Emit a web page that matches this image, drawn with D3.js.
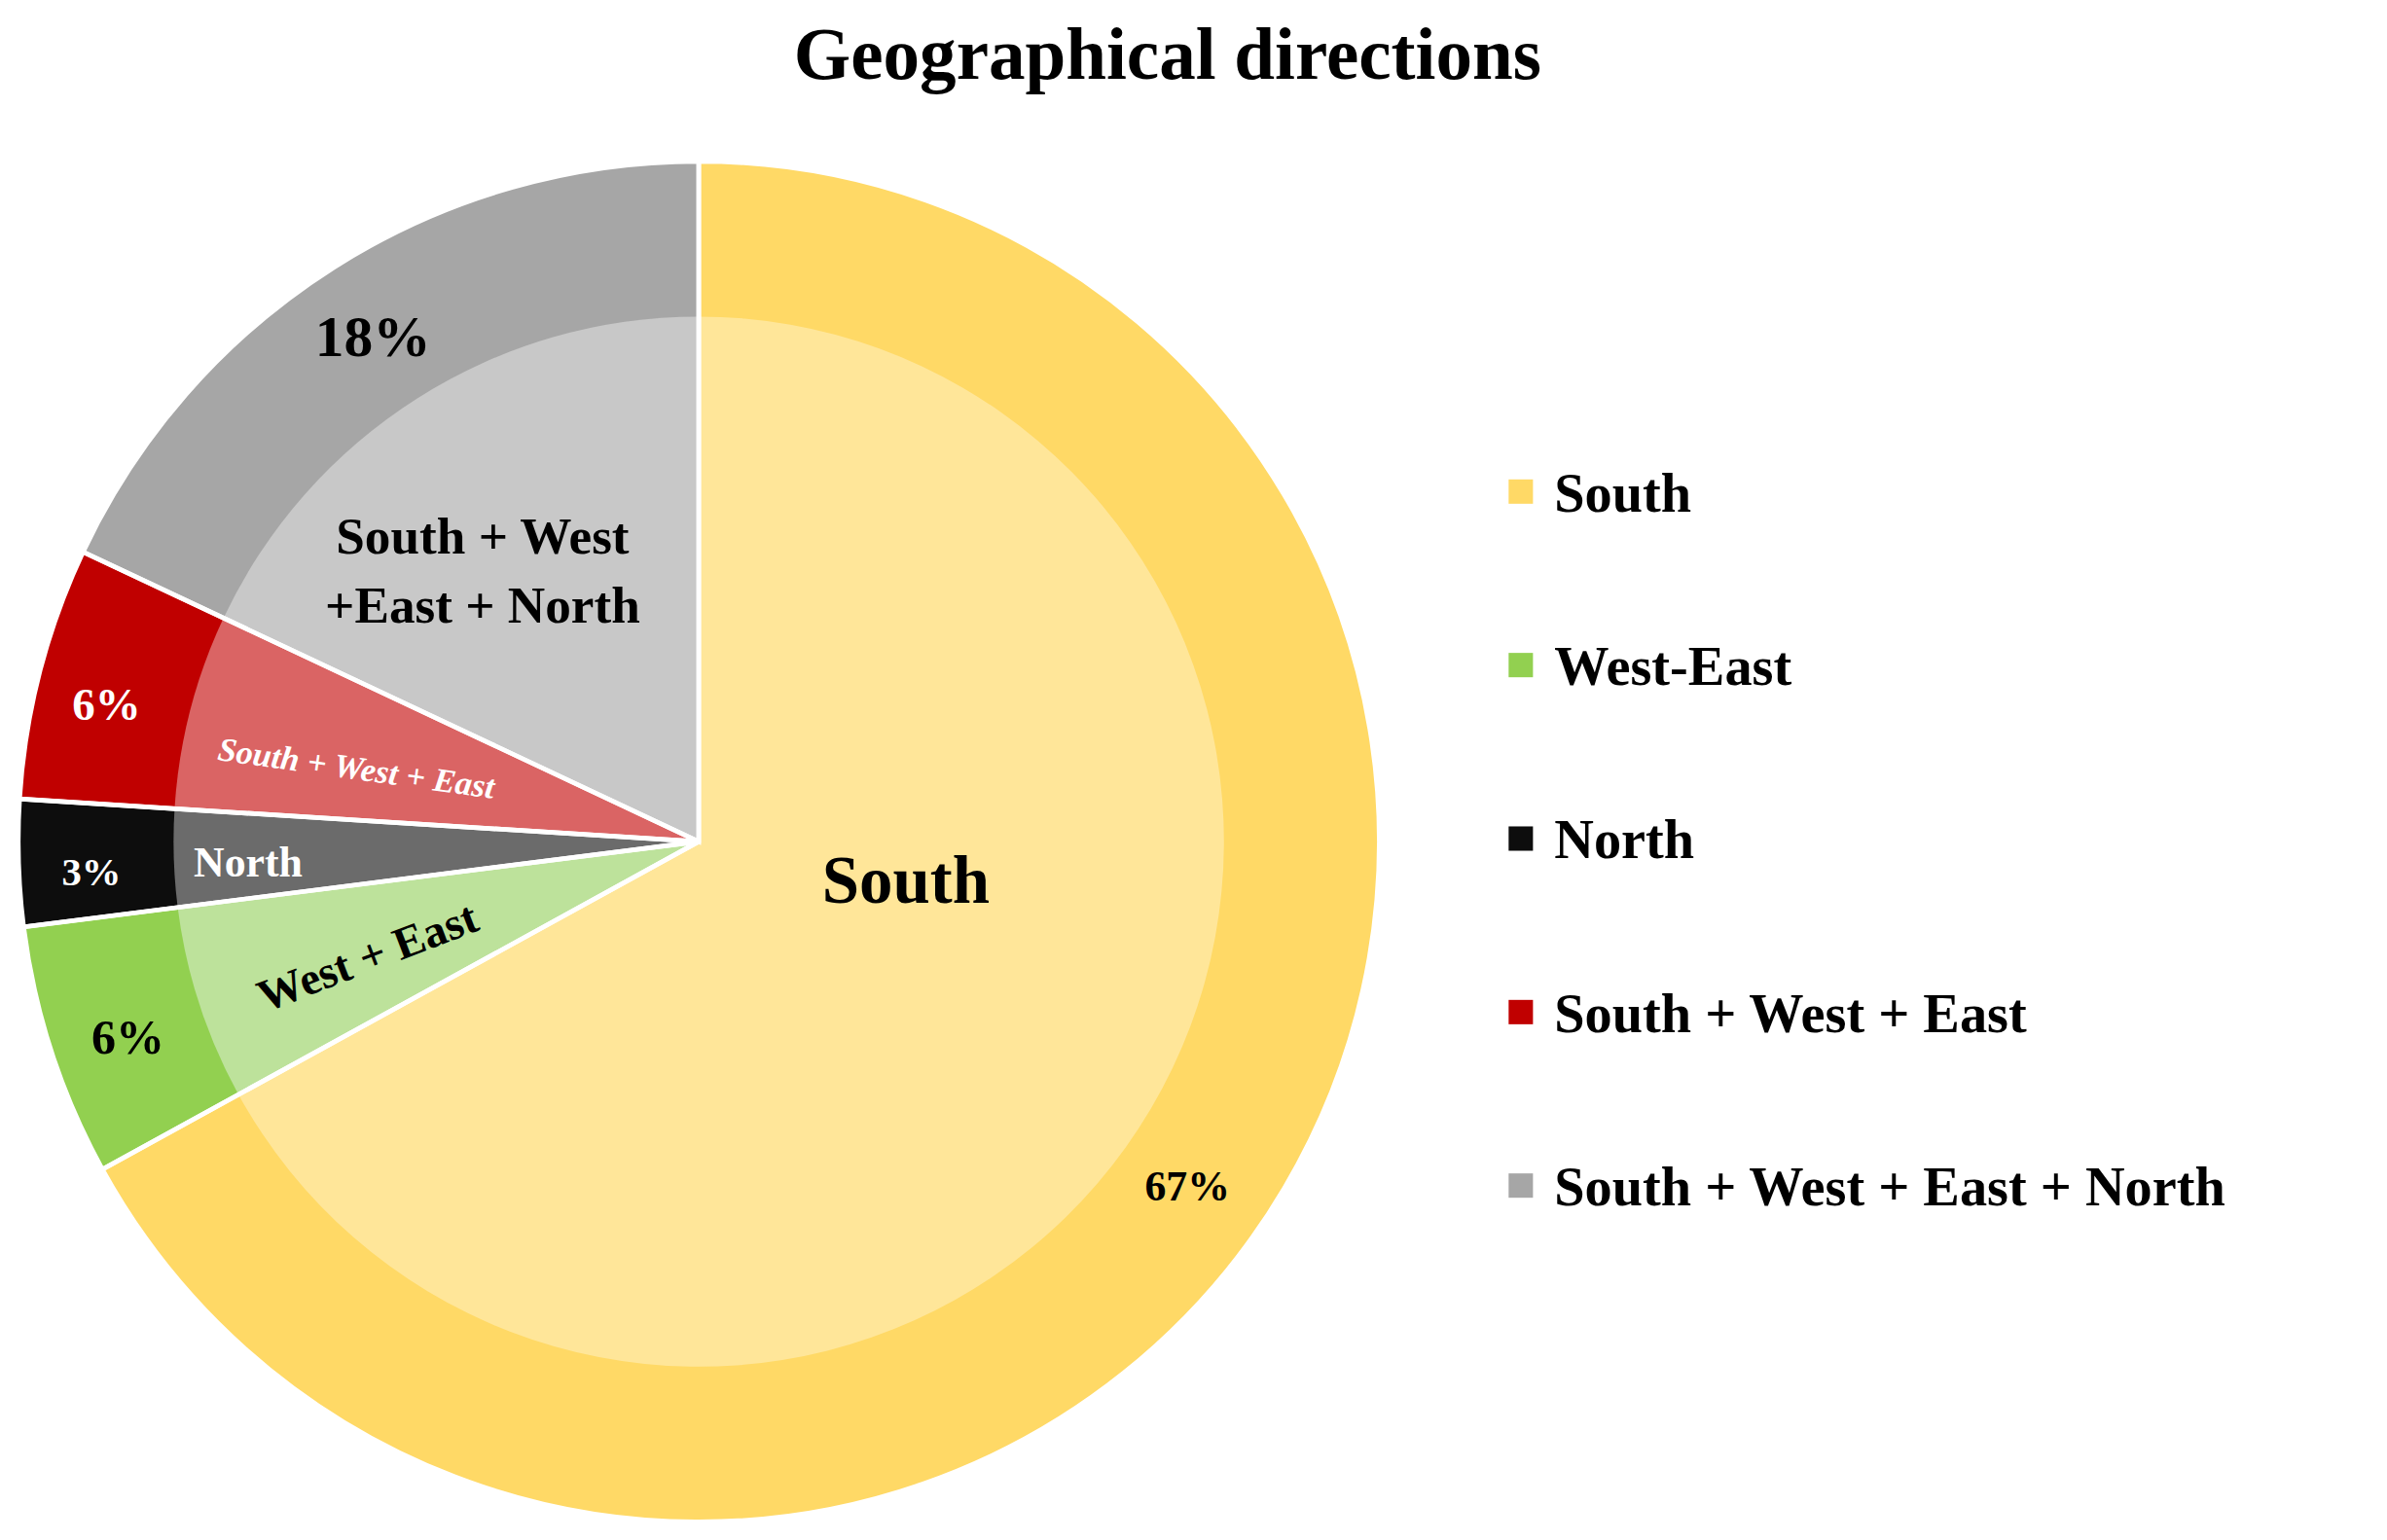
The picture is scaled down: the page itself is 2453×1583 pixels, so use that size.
<!DOCTYPE html>
<html>
<head>
<meta charset="utf-8">
<script src="https://cdn.jsdelivr.net/npm/d3@7"></script>
<style>
  body { margin: 0; background: #fff; }
  text { font-family: "Liberation Serif", "Times New Roman", serif; font-weight: bold; }
</style>
</head>
<body>
<svg id="chart" width="2453" height="1583"></svg>
<script>
// Chart data
var categories = ['South', 'West-East', 'North', 'South + West + East', 'South + West + East + North'];
var values = [67, 6, 3, 6, 18];
var outerColours = ['#FFD966', '#92D050', '#0D0D0D', '#C00000', '#A6A6A6'];
var innerColours = ['#FFE699', '#BDE29B', '#6B6B6B', '#DA6464', '#C8C8C8'];

// Reference picture was read at 1568px wide; k scales those readings.
var k = 2453 / 1568;
var svg = d3.select('#chart');
var cx = 459 * k, cy = 553 * k;
var rOuter = 447 * k, rInner = 345 * k;

svg.append('text')
  .attr('x', 767 * k).attr('y', 52 * k)
  .attr('text-anchor', 'middle')
  .attr('font-size', 48 * k)
  .text('Geographical directions');

var pie = d3.pie().sort(null).value(function(d) { return d; });
var arcs = pie(values);

var g = svg.append('g').attr('transform', 'translate(' + cx + ',' + cy + ')');

// outer ring (full slices), then inner disc on top
g.selectAll('path.outer').data(arcs).enter().append('path')
  .attr('class', 'outer')
  .attr('d', d3.arc().innerRadius(0).outerRadius(rOuter))
  .attr('fill', function(d, i) { return outerColours[i]; });

g.selectAll('path.inner').data(arcs).enter().append('path')
  .attr('class', 'inner')
  .attr('d', d3.arc().innerRadius(0).outerRadius(rInner))
  .attr('fill', function(d, i) { return innerColours[i]; });

// white separators
g.selectAll('path.sep').data(arcs).enter().append('path')
  .attr('class', 'sep')
  .attr('d', d3.arc().innerRadius(0).outerRadius(rOuter))
  .attr('fill', 'none')
  .attr('stroke', '#fff')
  .attr('stroke-width', 3 * k);

// labels: [text, x, y, size, colour, rotate, italic]
var labels = [
  ['South', 595, 593, 44, '#000', 0, false],
  ['67%', 780, 789, 28, '#000', 0, false],
  ['18%', 245, 234, 38, '#000', 0, false],
  ['South + West', 317, 364, 34, '#000', 0, false],
  ['+East + North', 317, 409, 34, '#000', 0, false],
  ['6%', 70, 473, 30, '#fff', 0, false],
  ['South + West + East', 233, 512, 22, '#fff', 8, true],
  ['3%', 60, 582, 26, '#fff', 0, false],
  ['North', 163, 576, 28, '#fff', 0, false],
  ['West + East', 245, 638, 30, '#000', -21, false],
  ['6%', 84, 692, 32, '#000', 0, false]
];
labels.forEach(function(l) {
  svg.append('text')
    .attr('transform', 'translate(' + l[1] * k + ',' + l[2] * k + ') rotate(' + l[5] + ')')
    .attr('text-anchor', 'middle')
    .attr('font-size', l[3] * k)
    .attr('font-style', l[6] ? 'italic' : 'normal')
    .attr('fill', l[4])
    .text(l[0]);
});

// legend
var legend = svg.append('g');
var ly = d3.scalePoint().domain(categories).range([323 * k, 779 * k]);
categories.forEach(function(c, i) {
  legend.append('rect')
    .attr('x', 991 * k).attr('y', ly(c) - 8 * k)
    .attr('width', 16 * k).attr('height', 16 * k)
    .attr('fill', outerColours[i]);
  legend.append('text')
    .attr('x', 1021 * k).attr('y', ly(c) + 13 * k)
    .attr('font-size', 36 * k)
    .text(c);
});
</script>
</body>
</html>
